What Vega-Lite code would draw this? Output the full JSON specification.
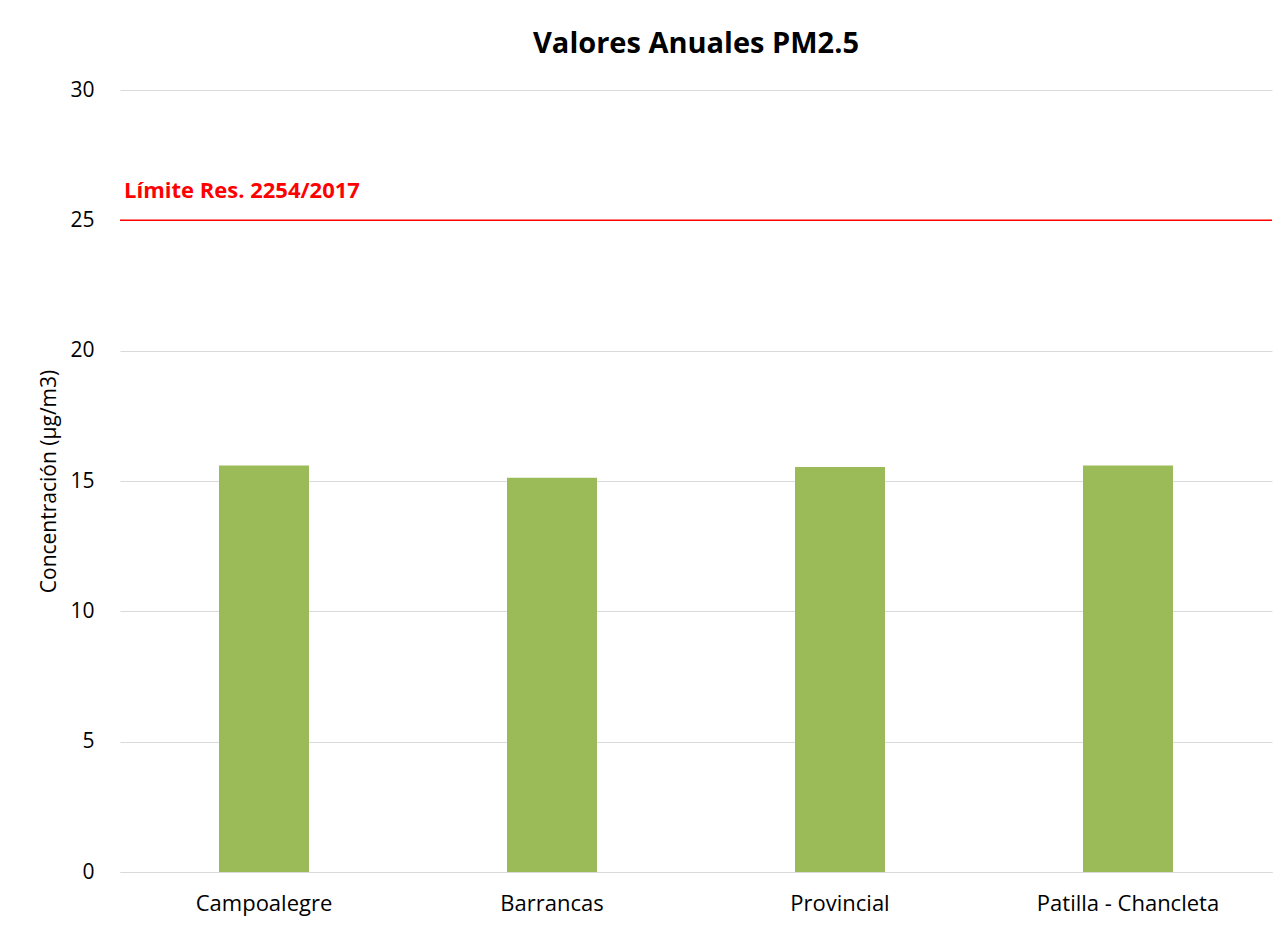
{
  "$schema": "https://vega.github.io/schema/vega-lite/v6.json",
  "autosize": {"type": "none"},
  "width": 1152,
  "height": 782,
  "padding": {"left": 120, "top": 90, "right": 16, "bottom": 59},
  "background": "white",
  "config": {
    "font": "Open Sans",
    "view": {"stroke": null}
  },
  "title": {
    "text": "Valores Anuales PM2.5",
    "fontSize": 29,
    "fontWeight": "bold",
    "font": "Open Sans",
    "color": "#000000",
    "anchor": "middle",
    "offset": 20
  },
  "datasets": {
    "estaciones": [
      {"estacion": "Campoalegre", "concentracion": 15.59},
      {"estacion": "Barrancas", "concentracion": 15.12},
      {"estacion": "Provincial", "concentracion": 15.54},
      {"estacion": "Patilla - Chancleta", "concentracion": 15.59}
    ],
    "limite": [
      {"etiqueta": "Límite Res. 2254/2017", "valor": 25}
    ]
  },
  "layer": [
    {
      "data": {"name": "estaciones"},
      "mark": {"type": "bar", "color": "#9BBB59"},
      "encoding": {
        "x": {
          "field": "estacion",
          "type": "nominal",
          "sort": null,
          "scale": {"paddingInner": 0.6875, "paddingOuter": 0.34375},
          "axis": {
            "title": null,
            "labelAngle": 0,
            "labelFontSize": 22,
            "labelColor": "#000000",
            "labelPadding": 21,
            "labelLimit": 400,
            "ticks": false,
            "domainColor": "#d9d9d9",
            "domainWidth": 1
          }
        },
        "y": {
          "field": "concentracion",
          "type": "quantitative",
          "scale": {"domain": [0, 30], "nice": false},
          "axis": {
            "title": "Concentración (µg/m3)",
            "titleFontSize": 21,
            "titleFontWeight": "normal",
            "titleColor": "#000000",
            "titlePadding": 10,
            "values": [0, 5, 10, 15, 20, 25, 30],
            "labelFontSize": 21,
            "labelColor": "#000000",
            "labelPadding": 26,
            "ticks": false,
            "domain": false,
            "gridColor": "#d9d9d9",
            "gridWidth": 1
          }
        }
      }
    },
    {
      "data": {"name": "limite"},
      "mark": {"type": "rule", "color": "#FF0000", "strokeWidth": 1.5},
      "encoding": {
        "y": {"field": "valor", "type": "quantitative"}
      }
    },
    {
      "data": {"name": "limite"},
      "mark": {
        "type": "text",
        "align": "left",
        "baseline": "alphabetic",
        "color": "#FF0000",
        "fontSize": 22,
        "fontWeight": "bold",
        "dx": 4,
        "dy": -22
      },
      "encoding": {
        "x": {"value": 0},
        "y": {"field": "valor", "type": "quantitative"},
        "text": {"field": "etiqueta"}
      }
    }
  ]
}
